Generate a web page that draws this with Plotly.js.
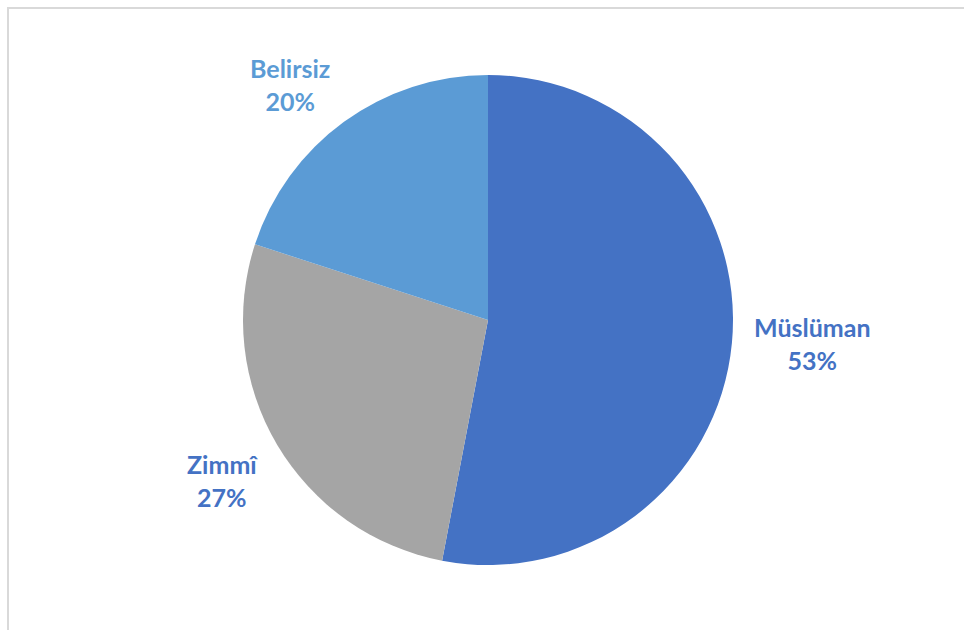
<!DOCTYPE html>
<html>
<head>
<meta charset="utf-8">
<script src="https://cdn.plot.ly/plotly-3.0.1.min.js"></script>
<style>
html,body{margin:0;padding:0;background:#fff;overflow:hidden;}
#frame{position:absolute;left:7px;top:7px;width:1100px;height:800px;border-top:2px solid #d9d9d9;border-left:2px solid #d9d9d9;}
#chart{position:absolute;left:0;top:0;width:964px;height:630px;}
</style>
</head>
<body>
<div id="frame"></div>
<div id="chart"></div>
<script>
const categories = ["Müslüman", "Zimmî", "Belirsiz"];
const values = [53, 27, 20];
const sliceColors = ["#4472C4", "#A5A5A5", "#5B9BD5"];
const labelColors = ["#4472C4", "#4472C4", "#5B9BD5"];

const W = 964, H = 630;
const cx = 488, cy = 320, r = 245;
const gapX = 20, gapY = 5;

const total = values.reduce((a, b) => a + b, 0);
let cum = 0;
const annotations = categories.map((c, i) => {
  const mid = (cum + values[i] / 2) / total * 2 * Math.PI;
  cum += values[i];
  const s = Math.sin(mid), co = Math.cos(mid);
  const px = cx + (r + gapX) * s, py = cy - (r + gapY) * co;
  const pct = Math.round(values[i] / total * 100);
  return {
    x: px / W, y: 1 - py / H, xref: "paper", yref: "paper",
    xanchor: s > 0.3 ? "left" : (s < -0.3 ? "right" : "center"),
    yanchor: co > 0.3 ? "bottom" : (co < -0.3 ? "top" : "middle"),
    showarrow: false,
    text: "<b>" + c + "</b><br><b>" + pct + "%</b>",
    align: "center",
    font: {family: "Lato, 'Open Sans', sans-serif", size: 25, color: labelColors[i]}
  };
});

const trace = {
  type: "pie",
  labels: categories,
  values: values,
  sort: false,
  direction: "clockwise",
  rotation: 0,
  textinfo: "none",
  hoverinfo: "label+percent",
  marker: {colors: sliceColors, line: {color: "#ffffff", width: 0}},
  domain: {x: [(cx - r) / W, (cx + r) / W], y: [(H - cy - r) / H, (H - cy + r) / H]}
};

const layout = {
  width: W, height: H,
  margin: {l: 0, r: 0, t: 0, b: 0},
  paper_bgcolor: "rgba(0,0,0,0)",
  plot_bgcolor: "rgba(0,0,0,0)",
  showlegend: false,
  annotations: annotations
};

Plotly.newPlot("chart", [trace], layout, {displayModeBar: false, staticPlot: true});
</script>
</body>
</html>
